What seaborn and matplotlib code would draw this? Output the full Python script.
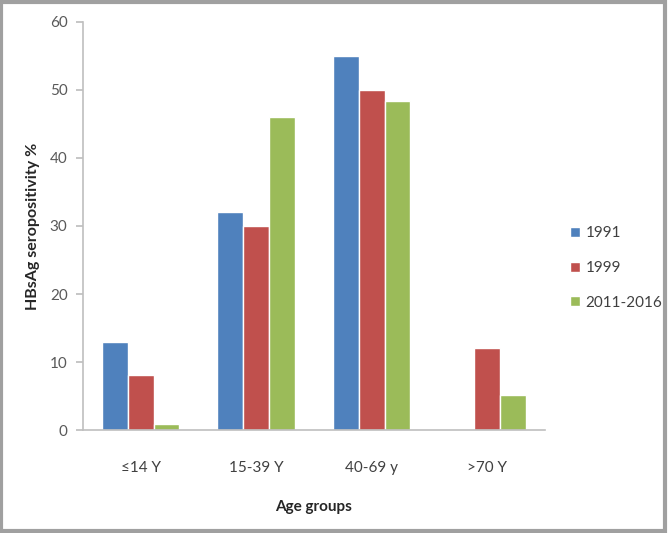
import numpy as np
import pandas as pd
import seaborn as sns
import matplotlib.pyplot as plt
from matplotlib.patches import Rectangle

# ------------------------------
# Data
# ------------------------------
age_groups = ["≤14 Y", "15-39 Y", "40-69 y", ">70 Y"]
periods = ["1991", "1999", "2011-2016"]
values_1991 = [13.0, 32.1, 55.0, np.nan]
values_1999 = [8.1, 30.0, 50.0, 12.1]
values_2011 = [0.9, 46.0, 48.3, 5.1]

PALETTE = ["#4F81BD", "#C0504D", "#9BBB59"]

df = pd.DataFrame({
    "age": age_groups * 3,
    "period": [p for p in periods for _ in age_groups],
    "value": values_1991 + values_1999 + values_2011,
})

sns.set_theme(style="white")
plt.rcParams["font.family"] = ["Lato", "DejaVu Sans"]

fig = plt.figure(figsize=(6.68, 5.33), dpi=100)
ax = fig.add_axes([0.124, 0.193, 0.692, 0.766])

sns.barplot(
    data=df,
    x="age",
    y="value",
    hue="period",
    order=age_groups,
    hue_order=periods,
    palette=PALETTE,
    width=0.67,
    saturation=1,
    ax=ax,
)

ax.set_ylim(0, 60)
ax.set_xlim(-0.5, 3.5)
ax.set_yticks(range(0, 61, 10))

for side in ["top", "right"]:
    ax.spines[side].set_visible(False)
for side in ["left", "bottom"]:
    ax.spines[side].set_color("#BFBFBF")
    ax.spines[side].set_linewidth(1.2)

ax.tick_params(axis="y", left=True, length=5, color="#BFBFBF",
               labelsize=11, labelcolor="#595959", pad=6)
ax.tick_params(axis="x", bottom=False, labelsize=11,
               labelcolor="#404040", pad=16)

ax.set_ylabel("HBsAg seropositivity %", fontsize=11.5, fontweight="bold",
              color="#262626", labelpad=7)
ax.set_xlabel("Age groups", fontsize=11, fontweight="bold",
              color="#262626", labelpad=18)

leg = ax.legend(
    loc="center left",
    bbox_to_anchor=(1.025, 0.397),
    frameon=False,
    fontsize=11,
    labelspacing=1.35,
    handlelength=0.6,
    handleheight=0.6,
    handletextpad=0.4,
)
for t in leg.get_texts():
    t.set_color("#404040")

# grey frame round the picture
fig.patches.append(Rectangle((0.002, 0.003), 0.994, 0.993,
                             transform=fig.transFigure, fill=False,
                             edgecolor="#A0A0A0", linewidth=3))

fig.savefig("out.png", dpi=100)
